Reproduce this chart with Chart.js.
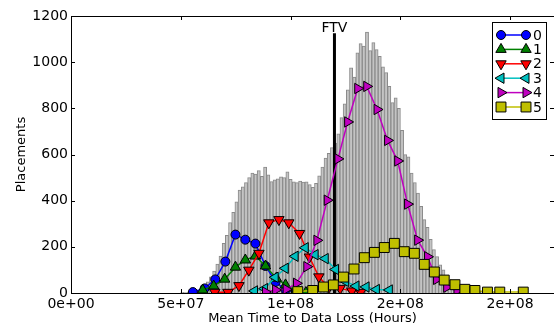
<!DOCTYPE html>
<html>
<head>
<meta charset="utf-8">
<script src="https://cdn.jsdelivr.net/npm/chart.js@4.4.0/dist/chart.umd.min.js"></script>
<style>
  body { margin: 0; background: #fff; }
  canvas { display: block; }
</style>
</head>
<body>
<canvas id="chart1" width="554" height="326"></canvas>
<script>
// histogram of all placements (100 bins)
var histStart  = 5.0e7
var binWidth   = 1.45e6
var histCounts = [3, 2, 4, 6, 10, 14, 22, 35, 48, 70,
                  95, 125, 160, 215, 250, 305, 350, 395, 446, 460,
                  478, 500, 520, 515, 530, 505, 545, 512, 483, 490,
                  495, 503, 500, 525, 492, 482, 478, 485, 480, 482,
                  470, 458, 475, 508, 545, 585, 605, 630, 650, 690,
                  760, 820, 880, 975, 935, 1040, 1080, 1070, 1130, 1050,
                  1085, 1055, 1025, 980, 955, 895, 825, 845, 800, 705,
                  600, 590, 520, 478, 433, 375, 318, 285, 232, 188,
                  158, 122, 100, 72, 57, 45, 36, 30, 24, 19,
                  15, 12, 10, 8, 7, 6, 5, 4, 3, 3]

// per-group curves
var mttdl0 = [5.55e7, 6.09e7, 6.57e7, 7.03e7, 7.49e7, 7.94e7, 8.40e7, 8.86e7, 9.32e7, 9.77e7, 1.023e8]
var count0 = [4, 20, 59, 136, 253, 231, 214, 117, 48, 13, 4]

var mttdl1 = [6.0e7, 6.5e7, 7.0e7, 7.49e7, 7.94e7, 8.40e7, 8.86e7, 9.35e7, 9.77e7, 1.026e8, 1.07e8]
var count1 = [13, 30, 60, 112, 143, 160, 117, 64, 35, 9, 2]

var mttdl2 = [6.55e7, 7.15e7, 7.65e7, 8.10e7, 8.56e7, 9.01e7, 9.47e7, 9.92e7, 1.041e8, 1.086e8, 1.129e8, 1.174e8, 1.226e8, 1.279e8, 1.32e8]
var count2 = [3, 3, 32, 99, 172, 304, 318, 304, 258, 156, 70, 24, 20, 9, 3]

var mttdl3 = [8.36e7, 8.82e7, 9.30e7, 9.76e7, 1.021e8, 1.067e8, 1.112e8, 1.158e8, 1.205e8, 1.251e8, 1.298e8, 1.344e8, 1.391e8, 1.45e8]
var count3 = [9, 19, 68, 107, 159, 196, 166, 149, 102, 50, 30, 26, 15, 13]

var mttdl4 = [8.86e7, 9.32e7, 9.80e7, 1.027e8, 1.074e8, 1.12e8, 1.167e8, 1.216e8, 1.26e8, 1.306e8, 1.347e8, 1.394e8, 1.442e8, 1.488e8, 1.533e8, 1.579e8, 1.624e8, 1.665e8, 1.711e8, 1.758e8]
var count4 = [4, 13, 16, 42, 114, 228, 402, 581, 741, 886, 895, 795, 661, 572, 385, 229, 157, 59, 25, 10]

var mttdl5 = [1.033e8, 1.101e8, 1.15e8, 1.195e8, 1.241e8, 1.289e8, 1.336e8, 1.382e8, 1.427e8, 1.473e8, 1.518e8, 1.564e8, 1.609e8, 1.655e8, 1.70e8, 1.749e8, 1.794e8, 1.84e8, 1.897e8, 1.953e8, 2.06e8]
var count5 = [6, 11, 26, 35, 69, 104, 153, 176, 197, 215, 179, 172, 124, 91, 56, 36, 16, 11, 4, 4, 4]

var seriesNames = ["0", "1", "2", "3", "4", "5"]
var xTickValues = [0, 5e7, 1e8, 1.5e8, 2e8]
var yTickValues = [0, 200, 400, 600, 800, 1000, 1200]
var ftvValue    = 1.2e8
var ftvTop      = 1125

// styles
var seriesColors = ["#0000ff", "#008000", "#ff0000", "#00bfbf", "#bf00bf", "#bfbf00"]
var pointStyles  = ["circle", "triangle", "triangle", "triangle", "triangle", "rect"]
var rotations    = [0, 0, 180, 270, 90, 0]
var radii        = [4.5, 6, 6, 6, 6, 7]
var font = "DejaVu Sans"

function expLabel(v) {
  // matplotlib style %.0e, e.g. 5e+07
  var s = Number(v).toExponential(0)
  var parts = s.split("e")
  var sign = parts[1][0]
  var ex = parts[1].slice(1)
  if (ex.length < 2) ex = "0" + ex
  return parts[0] + "e" + sign + ex
}

var xs = [mttdl0, mttdl1, mttdl2, mttdl3, mttdl4, mttdl5]
var ys = [count0, count1, count2, count3, count4, count5]

function points(xArr, yArr) {
  var out = []
  for (var j = 0; j < xArr.length; j++) out.push({ x: xArr[j], y: yArr[j] })
  return out
}

var datasets = []
datasets.push({
  type: "bar",
  label: "hist",
  data: histCounts.map(function (c, i) { return { x: histStart + (i + 0.5) * binWidth, y: c } }),
  backgroundColor: "#c4c4c4",
  borderColor: "#8a8a8a",
  borderWidth: 1,
  barPercentage: 1.0,
  categoryPercentage: 1.0,
  order: 10
})
for (var i = 0; i < 6; i++) {
  datasets.push({
    type: "line",
    label: seriesNames[i],
    data: points(xs[i], ys[i]),
    borderColor: seriesColors[i],
    backgroundColor: seriesColors[i],
    borderWidth: 1.5,
    tension: 0,
    pointStyle: pointStyles[i],
    pointRotation: rotations[i],
    pointRadius: radii[i],
    pointBackgroundColor: seriesColors[i],
    pointBorderColor: "#000",
    pointBorderWidth: 1,
    order: 6 - i
  })
}

var ftvPlugin = {
  id: "ftv",
  afterDatasetDraw: function (chart, args) {
    if (args.index !== 0) return
    var ctx = chart.ctx
    var x = chart.scales.x.getPixelForValue(ftvValue)
    var y0 = chart.scales.y.getPixelForValue(0)
    var y1 = chart.scales.y.getPixelForValue(ftvTop)
    ctx.save()
    ctx.strokeStyle = "#000"
    ctx.lineWidth = 3
    ctx.beginPath()
    ctx.moveTo(x, y0)
    ctx.lineTo(x, y1)
    ctx.stroke()
    ctx.fillStyle = "#000"
    ctx.font = "14px '" + font + "'"
    ctx.textAlign = "center"
    ctx.textBaseline = "bottom"
    ctx.fillText("FTV", x, y1 + 2)
    ctx.restore()
  }
}

var frameTicks = {
  id: "frameTicks",
  afterDraw: function (chart) {
    var ctx = chart.ctx
    var a = chart.chartArea
    var sx = chart.scales.x, sy = chart.scales.y
    var len = 4
    ctx.save()
    ctx.strokeStyle = "#000"
    ctx.lineWidth = 1
    ctx.strokeRect(a.left + 0.5, a.top + 0.5, a.right - a.left, a.bottom - a.top)
    ctx.beginPath()
    xTickValues.forEach(function (v) {
      var px = Math.round(sx.getPixelForValue(v)) + 0.5
      ctx.moveTo(px, a.bottom); ctx.lineTo(px, a.bottom - len)
      ctx.moveTo(px, a.top); ctx.lineTo(px, a.top + len)
    })
    yTickValues.forEach(function (v) {
      var py = Math.round(sy.getPixelForValue(v)) + 0.5
      ctx.moveTo(a.left, py); ctx.lineTo(a.left + len, py)
      ctx.moveTo(a.right, py); ctx.lineTo(a.right - len, py)
    })
    ctx.stroke()

    // legend box
    var bx = a.right - 62, by = a.top + 6, bw = 54, bh = 97
    ctx.fillStyle = "#fff"
    ctx.fillRect(bx + 0.5, by + 0.5, bw, bh)
    ctx.strokeRect(bx + 0.5, by + 0.5, bw, bh)
    ctx.font = "14px '" + font + "'"
    ctx.textAlign = "left"
    ctx.textBaseline = "middle"
    for (var i = 0; i < 6; i++) {
      var ry = by + 13 + i * 14.4
      var x1 = bx + 9, x2 = bx + 34
      ctx.strokeStyle = seriesColors[i]
      ctx.lineWidth = 1.5
      ctx.beginPath(); ctx.moveTo(x1, ry); ctx.lineTo(x2, ry); ctx.stroke()
      ctx.fillStyle = seriesColors[i]
      ctx.strokeStyle = "#000"
      ctx.lineWidth = 1
      var opts = { pointStyle: pointStyles[i], rotation: rotations[i], radius: radii[i], borderWidth: 1 }
      Chart.helpers.drawPoint(ctx, opts, x1, ry)
      Chart.helpers.drawPoint(ctx, opts, x2, ry)
      ctx.fillStyle = "#000"
      ctx.fillText(seriesNames[i], bx + 41, ry + 1)
    }
    ctx.restore()
  }
}

const myChart = new Chart(document.getElementById("chart1").getContext("2d"), {
  type: "bar",
  data: { datasets: datasets },
  options: {
    responsive: false,
    animation: false,
    devicePixelRatio: 1,
    layout: { autoPadding: false, padding: { top: 16, right: 0, left: 0, bottom: 0 } },
    plugins: { legend: { display: false }, tooltip: { enabled: false } },
    scales: {
      x: {
        type: "linear",
        min: 0,
        max: 2.2e8,
        offset: false,
        grid: { display: false, drawTicks: false, offset: false },
        border: { display: false },
        afterBuildTicks: function (scale) { scale.ticks = xTickValues.map(function (v) { return { value: v } }) },
        afterFit: function (scale) {
          scale.height = 33
          scale.paddingLeft = 0
          scale.paddingRight = 0
        },
        ticks: {
          color: "#000", padding: 3, maxRotation: 0, autoSkip: false,
          font: { family: font, size: 14 },
          callback: function (v) { return expLabel(v) }
        },
        title: {
          display: true, text: "Mean Time to Data Loss (Hours)", color: "#000",
          font: { family: font, size: 13 }, padding: { top: 0, bottom: 0 }
        }
      },
      y: {
        min: 0,
        max: 1200,
        grid: { display: false, drawTicks: false },
        border: { display: false },
        afterBuildTicks: function (scale) { scale.ticks = yTickValues.map(function (v) { return { value: v } }) },
        afterFit: function (scale) { scale.width = 71 },
        ticks: {
          color: "#000", padding: 3, font: { family: font, size: 14 },
          callback: function (v) { return String(v) }
        },
        title: {
          display: true, text: "Placements", color: "#000",
          font: { family: font, size: 13 }, padding: { top: 14, bottom: 0 }
        }
      }
    }
  },
  plugins: [ftvPlugin, frameTicks]
})
</script>
</body>
</html>
